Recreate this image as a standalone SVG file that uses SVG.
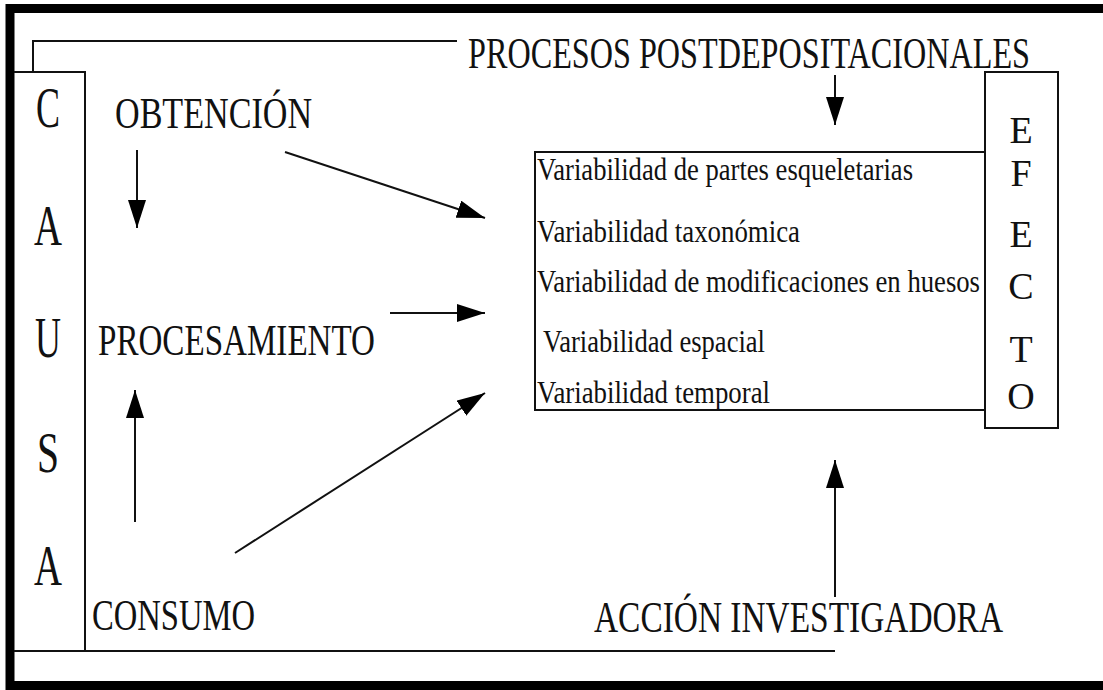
<svg xmlns="http://www.w3.org/2000/svg" width="1103" height="690" viewBox="0 0 1103 690">
<defs>
<marker id="ah" markerUnits="userSpaceOnUse" markerWidth="30" markerHeight="20" refX="28" refY="9" orient="auto">
<path d="M0,0 L28,9 L0,18 z" fill="#000"/>
</marker>
<style>
.t{font-family:"Liberation Serif","Times New Roman",serif;fill:#111;}
.big{font-size:44px;}
.let{font-size:56px;}
.ef{font-size:38px;}
.var{font-size:32px;}
.ln{stroke:#111;stroke-width:2;fill:none;}
.ar{stroke:#111;stroke-width:2;fill:none;marker-end:url(#ah);}
</style>
</defs>
<rect x="0" y="0" width="1103" height="690" fill="#fff"/>
<path d="M1103,8.5 H10 V685.5 H1103" fill="none" stroke="#000" stroke-width="9"/>
<g id="causa">
<path class="ln" d="M14,72 H85 V651"/>
<text class="t let" x="36" y="127" textLength="24" lengthAdjust="spacingAndGlyphs">C</text>
<text class="t let" x="34" y="245" textLength="28" lengthAdjust="spacingAndGlyphs">A</text>
<text class="t let" x="35" y="357" textLength="26" lengthAdjust="spacingAndGlyphs">U</text>
<text class="t let" x="37" y="472" textLength="22" lengthAdjust="spacingAndGlyphs">S</text>
<text class="t let" x="34" y="585" textLength="28" lengthAdjust="spacingAndGlyphs">A</text>
</g>
<g id="obtencion"><text class="t big" x="115" y="128" textLength="197" lengthAdjust="spacingAndGlyphs">OBTENCIÓN</text></g>
<g id="procesamiento"><text class="t big" x="98" y="355" textLength="277" lengthAdjust="spacingAndGlyphs">PROCESAMIENTO</text></g>
<g id="consumo"><text class="t big" x="92" y="630" textLength="163" lengthAdjust="spacingAndGlyphs">CONSUMO</text></g>
<g id="postdeposicionales"><text class="t big" x="468" y="68" textLength="562" lengthAdjust="spacingAndGlyphs">PROCESOS POSTDEPOSITACIONALES</text></g>
<g id="accion"><text class="t big" x="594" y="632" textLength="409" lengthAdjust="spacingAndGlyphs">ACCIÓN INVESTIGADORA</text></g>
<g id="variabilidad">
<path class="ln" d="M985,152 H535 V410 H985"/>
<text class="t var" x="537" y="180" textLength="376" lengthAdjust="spacingAndGlyphs">Variabilidad de partes esqueletarias</text>
<text class="t var" x="537" y="242" textLength="263" lengthAdjust="spacingAndGlyphs">Variabilidad taxonómica</text>
<text class="t var" x="537" y="292" textLength="443" lengthAdjust="spacingAndGlyphs">Variabilidad de modificaciones en huesos</text>
<text class="t var" x="543" y="352" textLength="222" lengthAdjust="spacingAndGlyphs">Variabilidad espacial</text>
<text class="t var" x="537" y="403" textLength="233" lengthAdjust="spacingAndGlyphs">Variabilidad temporal</text>
</g>
<g id="efecto">
<rect class="ln" x="985" y="72" width="73" height="356"/>
<text class="t ef" x="1021" y="143" text-anchor="middle">E</text>
<text class="t ef" x="1021" y="186" text-anchor="middle">F</text>
<text class="t ef" x="1021" y="247" text-anchor="middle">E</text>
<text class="t ef" x="1021" y="299" text-anchor="middle">C</text>
<text class="t ef" x="1021" y="362" text-anchor="middle">T</text>
<text class="t ef" x="1021" y="409" text-anchor="middle">O</text>
</g>
<g id="connectors">
<path class="ln" d="M33,72 V41 H457"/>
<path class="ln" d="M14,651 H835"/>
<path class="ar" d="M137,150 V228"/>
<path class="ar" d="M135,522 V390"/>
<path class="ar" d="M285,152 L485,218"/>
<path class="ar" d="M390,313 L485,313"/>
<path class="ar" d="M235,553 L485,393"/>
<path class="ar" d="M835,75 V125"/>
<path class="ar" d="M835,597 V460"/>
</g>
</svg>
